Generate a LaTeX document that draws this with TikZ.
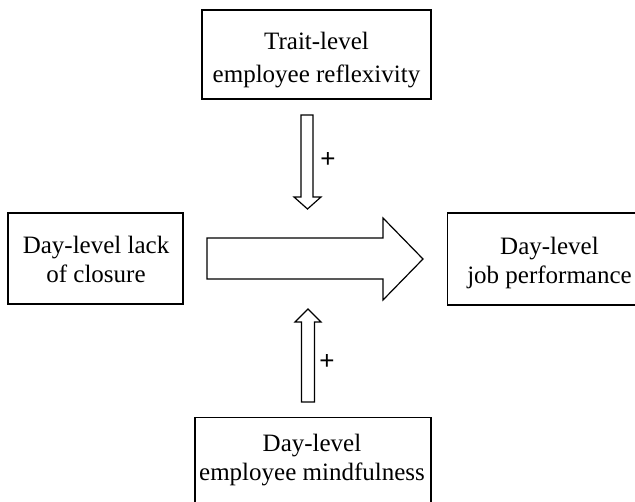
\documentclass[tikz,border=0pt]{standalone}
\usepackage{fontspec}
\setmainfont{Liberation Serif}
\newfontfamily\plusfont{Liberation Sans}
\usepackage{tikz}

\tikzset{
  varbox/.style={draw, line width=1.2pt, inner sep=0pt},
  vartext/.style={align=center, inner sep=0pt, font=\fontsize{25}{29}\selectfont},
  widetext/.style={vartext, font=\fontsize{25}{33}\selectfont},
  blockarrow/.style={line width=1.2pt, line join=miter},
  signlabel/.style={inner sep=0pt, font=\plusfont\fontsize{26}{26}\selectfont}
}

\begin{document}
\begin{tikzpicture}[x=1pt,y=-1pt]

\useasboundingbox (0,0) rectangle (635,502);
\clip (0,0) rectangle (635,502);

% boxes (right and bottom ones run past the edge)
\node[varbox, minimum width=229, minimum height=89] (T) at (316.5,54.5) {};
\node[varbox, minimum width=175, minimum height=91] (L) at (95.5,258.5) {};
\node[varbox, minimum width=205, minimum height=92, anchor=west] (R) at (447,259) {};
\node[varbox, minimum width=236, minimum height=110, anchor=north] (B) at (313,417) {};

\node[widetext] (Ttext) at ([yshift=-5.1pt]T.center) {Trait-level\\employee reflexivity};
\node[vartext] (Ltext) at ([xshift=0.5pt,yshift=-0.5pt]L.center) {Day-level lack\\of closure};
\node[vartext] (Rtext) at ([xshift=102.5pt,yshift=-4pt]R.west) {Day-level\\job performance};
\node[vartext] (Btext) at ([xshift=-1pt,yshift=-42.6pt]B.north) {Day-level\\employee mindfulness};

% moderator arrow from above
\draw[blockarrow] (301,115)
-- (313,115)
-- (313,197)
-- (321,197)
-- (307.5,209)
-- (294,197)
-- (301,197)
-- cycle;

% main effect arrow
\draw[blockarrow] (207,238)
-- (383,238)
-- (383,218)
-- (423,259)
-- (383,300)
-- (383,279)
-- (207,279)
-- cycle;

% moderator arrow from below
\draw[blockarrow] (301.5,402)
-- (301.5,322)
-- (295,322)
-- (308,309)
-- (321,322)
-- (314.5,322)
-- (314.5,402)
-- cycle;

\node[signlabel] (plusT) at (328,160) {+};
\node[signlabel] (plusB) at (327,362) {+};

\end{tikzpicture}
\end{document}
